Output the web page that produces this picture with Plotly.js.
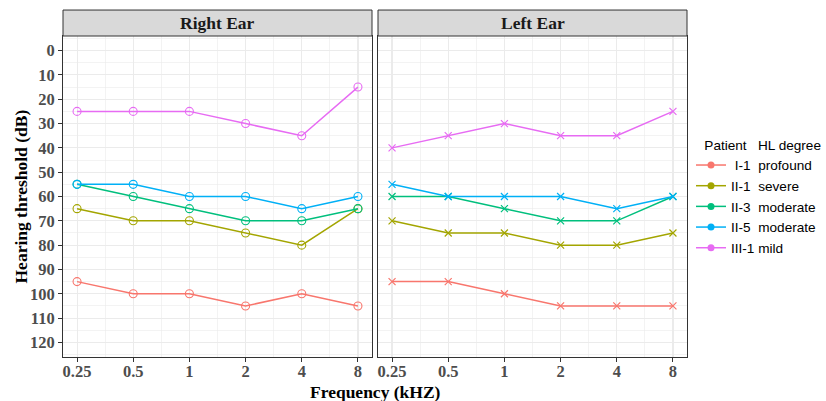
<!DOCTYPE html>
<html>
<head>
<meta charset="utf-8">
<script src="https://cdn.plot.ly/plotly-3.0.1.min.js"></script>
<style>html,body{margin:0;padding:0;background:#fff;}#chart{width:826px;height:401px;}</style>
</head>
<body>
<div id="chart"></div>
<script>
// ---- data ----
const frequencies = [0.25, 0.5, 1, 2, 4, 8];          // kHz
const freqLabels = ['0.25', '0.5', '1', '2', '4', '8'];
const patients = ['I-1', 'II-1', 'II-3', 'II-5', 'III-1'];
const hlDegree = ['profound', 'severe', 'moderate', 'moderate', 'mild'];
const legendNames = ['\u00A0I-1\u00A0\u00A0profound', 'II-1\u00A0\u00A0severe', 'II-3\u00A0\u00A0moderate', 'II-5\u00A0\u00A0moderate', 'III-1 mild'];
const colors = ['#F8766D', '#A3A500', '#00BF7D', '#00B0F6', '#E76BF3'];

const rightEar = {
  'I-1':   [95, 100, 100, 105, 100, 105],
  'II-1':  [65, 70, 70, 75, 80, 65],
  'II-3':  [55, 60, 65, 70, 70, 65],
  'II-5':  [55, 55, 60, 60, 65, 60],
  'III-1': [25, 25, 25, 30, 35, 15]
};
const leftEar = {
  'I-1':   [95, 95, 100, 105, 105, 105],
  'II-1':  [70, 75, 75, 80, 80, 75],
  'II-3':  [60, 60, 65, 70, 70, 60],
  'II-5':  [55, 60, 60, 60, 65, 60],
  'III-1': [40, 35, 30, 35, 35, 25]
};
const yTicks = [0, 10, 20, 30, 40, 50, 60, 70, 80, 90, 100, 110, 120];

// ---- build ----
const xPos = frequencies.map(f => Math.log2(f));
const traces = [];
patients.forEach((p, i) => {
  traces.push({
    x: xPos, y: rightEar[p], xaxis: 'x', yaxis: 'y', type: 'scatter', mode: 'lines+markers',
    line: {color: colors[i], width: 1.5},
    marker: {symbol: 'circle-open', size: 8, color: colors[i], line: {width: 1.1, color: colors[i]}},
    showlegend: false, name: p
  });
  traces.push({
    x: xPos, y: leftEar[p], xaxis: 'x2', yaxis: 'y2', type: 'scatter', mode: 'lines+markers',
    line: {color: colors[i], width: 1.5},
    marker: {symbol: 'x-thin-open', size: 7, color: colors[i], line: {width: 1.2, color: colors[i]}},
    showlegend: false, name: p
  });
});
patients.forEach((p, i) => {
  traces.push({
    x: [null], y: [null], xaxis: 'x', yaxis: 'y', type: 'scatter', mode: 'lines+markers',
    line: {color: colors[i], width: 1.5},
    marker: {symbol: 'circle', size: 7, color: colors[i]},
    name: legendNames[i], showlegend: true
  });
});

const tickFont = {family: 'Liberation Serif, Times New Roman, serif', size: 16.5, color: '#4D4D4D', weight: 'bold'};
const gridCol = '#EBEBEB';
const xAxisBase = {
  range: [-2.25, 3.25], tickmode: 'array', tickvals: xPos, ticktext: freqLabels,
  showgrid: true, gridcolor: gridCol, gridwidth: 1.1,
  zeroline: false, zerolinecolor: gridCol, zerolinewidth: 1.1,
  minor: {tickmode: 'linear', tick0: -1.5, dtick: 1, showgrid: true, gridcolor: gridCol, gridwidth: 0.6, ticks: ''},
  showline: true, mirror: true, linecolor: '#333333', linewidth: 1,
  ticks: 'outside', ticklen: 4, tickwidth: 1, tickcolor: '#333333', ticklabelstandoff: -5,
  tickfont: tickFont, fixedrange: true
};
const yAxisBase = {
  range: [126, -6], tickmode: 'array', tickvals: yTicks, ticktext: yTicks.map(String),
  showgrid: true, gridcolor: gridCol, gridwidth: 1.1,
  zeroline: false, zerolinecolor: gridCol, zerolinewidth: 1.1,
  minor: {tickmode: 'linear', tick0: 5, dtick: 10, showgrid: true, gridcolor: gridCol, gridwidth: 0.6, ticks: ''},
  showline: true, mirror: true, linecolor: '#333333', linewidth: 1,
  ticks: 'outside', ticklen: 4, tickwidth: 1, tickcolor: '#333333',
  tickfont: tickFont, fixedrange: true
};
const d1 = [0, 309 / 624], d2 = [315 / 624, 1];
const stripTop = 1 + 26 / 321.5;

const layout = {
  width: 826, height: 401,
  margin: {l: 63, r: 139, t: 36, b: 43.5},
  paper_bgcolor: '#ffffff', plot_bgcolor: '#ffffff',
  xaxis: Object.assign({}, xAxisBase, {domain: d1, anchor: 'y'}),
  xaxis2: Object.assign({}, xAxisBase, {domain: d2, anchor: 'y2'}),
  yaxis: Object.assign({}, yAxisBase, {domain: [0, 1], anchor: 'x'}),
  yaxis2: Object.assign({}, yAxisBase, {domain: [0, 1], anchor: 'x2', showticklabels: false, ticks: ''}),
  showlegend: true,
  legend: {
    xref: 'container', yref: 'container',
    x: 691 / 826, xanchor: 'left', y: 1 - 132 / 401, yanchor: 'top',
    bgcolor: 'rgba(0,0,0,0)', borderwidth: 0,
    font: {family: 'Liberation Sans, Arial, sans-serif', size: 13.6, color: '#000000'},
    title: {text: '\u00A0\u00A0\u00A0Patient\u00A0\u00A0\u00A0HL degree', font: {family: 'Liberation Sans, Arial, sans-serif', size: 13.6, color: '#000000'}},
    tracegroupgap: 0
  },
  shapes: [
    {type: 'rect', xref: 'paper', yref: 'paper', x0: d1[0], x1: d1[1], y0: 1, y1: stripTop, fillcolor: '#D9D9D9', line: {color: '#333333', width: 1}},
    {type: 'rect', xref: 'paper', yref: 'paper', x0: d2[0], x1: d2[1], y0: 1, y1: stripTop, fillcolor: '#D9D9D9', line: {color: '#333333', width: 1}}
  ],
  annotations: [
    {text: 'Right Ear', xref: 'paper', yref: 'paper', x: (d1[0] + d1[1]) / 2, y: (1 + stripTop) / 2, xanchor: 'center', yanchor: 'middle', showarrow: false,
     font: {family: 'Liberation Serif, Times New Roman, serif', size: 17.5, color: '#1A1A1A', weight: 'bold'}},
    {text: 'Left Ear', xref: 'paper', yref: 'paper', x: (d2[0] + d2[1]) / 2, y: (1 + stripTop) / 2, xanchor: 'center', yanchor: 'middle', showarrow: false,
     font: {family: 'Liberation Serif, Times New Roman, serif', size: 17.5, color: '#1A1A1A', weight: 'bold'}},
    {text: 'Frequency (kHZ)', xref: 'paper', yref: 'paper', x: 0.5, y: -(393 - 357.5) / 321.5, xanchor: 'center', yanchor: 'middle', showarrow: false,
     font: {family: 'Liberation Serif, Times New Roman, serif', size: 17.5, color: '#000000', weight: 'bold'}},
    {text: 'Hearing threshold (dB)', xref: 'paper', yref: 'paper', x: -(63 - 20) / 624, y: 0.5, xanchor: 'center', yanchor: 'middle', textangle: -90, showarrow: false,
     font: {family: 'Liberation Serif, Times New Roman, serif', size: 17.5, color: '#000000', weight: 'bold'}}
  ]
};

Plotly.newPlot('chart', traces, layout, {displayModeBar: false, staticPlot: true});
</script>
</body>
</html>
